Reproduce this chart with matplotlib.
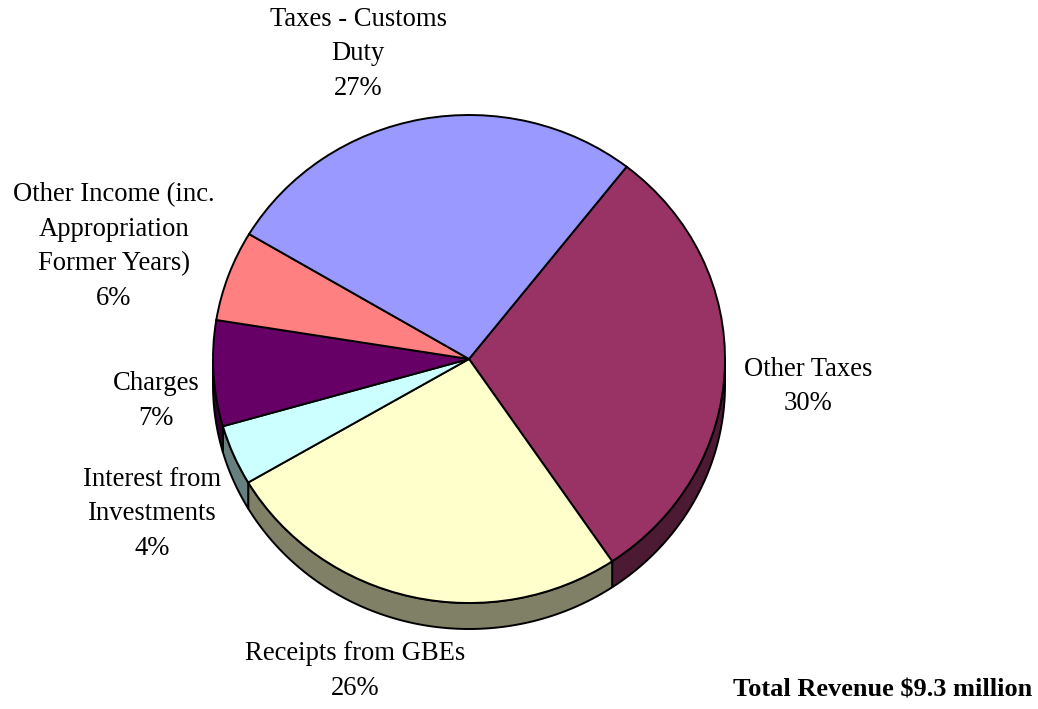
import numpy as np
import matplotlib
matplotlib.use("Agg")
import matplotlib.pyplot as plt
from matplotlib.patches import Polygon
from matplotlib.colors import to_rgb

# Revenue composition (percent of total), in drawing order clockwise
categories = [
    "Other Taxes",
    "Receipts from GBEs",
    "Interest from\nInvestments",
    "Charges",
    "Other Income (inc.\nAppropriation\nFormer Years)",
    "Taxes - Customs\nDuty",
]
shares = [30, 26, 4, 7, 6, 27]
colors = ["#993366", "#FFFFCC", "#CCFFFF", "#660066", "#FF8080", "#9999FF"]
total_revenue = 9.3  # $ million

# label anchor points (pixel x, pixel y of the last line's baseline)
label_pos = [(808, 410), (355, 695), (152, 555), (156, 425), (114, 305), (358, 95)]

W, H = 1038, 709
fig = plt.figure(figsize=(W / 100, H / 100), dpi=100)
ax = fig.add_axes([0, 0, 1, 1])

# slightly flattened pie: y data units are squeezed to form an ellipse
sy = 244 / 256
cx, cy_px, r = 469, 359, 256
cy = (H - cy_px) / sy
depth = 26 / sy

wedges, _ = ax.pie(
    shares, colors=colors, startangle=52, counterclock=False,
    center=(cx, cy), radius=r, frame=True,
    wedgeprops=dict(edgecolor="black", linewidth=1.4),
)

# side walls of the 3-D disc (visible on the lower half only)
for w, col in zip(wedges, colors):
    t1 = w.theta1 % 360
    t2 = t1 + (w.theta2 - w.theta1)
    dark = tuple(c * 0.5 for c in to_rgb(col))
    for lo, hi in [(180, 360), (540, 720)]:
        a, b = max(t1, lo), min(t2, hi)
        if b <= a:
            continue
        th = np.radians(np.linspace(a, b, 200))
        xs = cx + r * np.cos(th)
        ys = cy + r * np.sin(th)
        pts = np.vstack([np.column_stack([xs, ys]),
                         np.column_stack([xs[::-1], ys[::-1] - depth])])
        ax.add_patch(Polygon(pts, closed=True, facecolor=dark,
                             edgecolor="black", linewidth=1.4, zorder=0.5))

ax.set_xlim(0, W)
ax.set_ylim(0, H / sy)
ax.set_aspect("auto")
ax.axis("off")

font = "Liberation Serif"
for name, val, (px, py) in zip(categories, shares, label_pos):
    fig.text(px / W, 1 - py / H, f"{name}\n{val}%", ha="center", va="baseline",
             multialignment="center", fontsize=19.2, family=font, linespacing=1.5)

fig.text(1032 / W, 1 - 697 / H, f"Total Revenue ${total_revenue} million",
         ha="right", va="baseline", fontsize=19, family=font, fontweight="bold")

fig.savefig("out.png", dpi=100, facecolor="white")
